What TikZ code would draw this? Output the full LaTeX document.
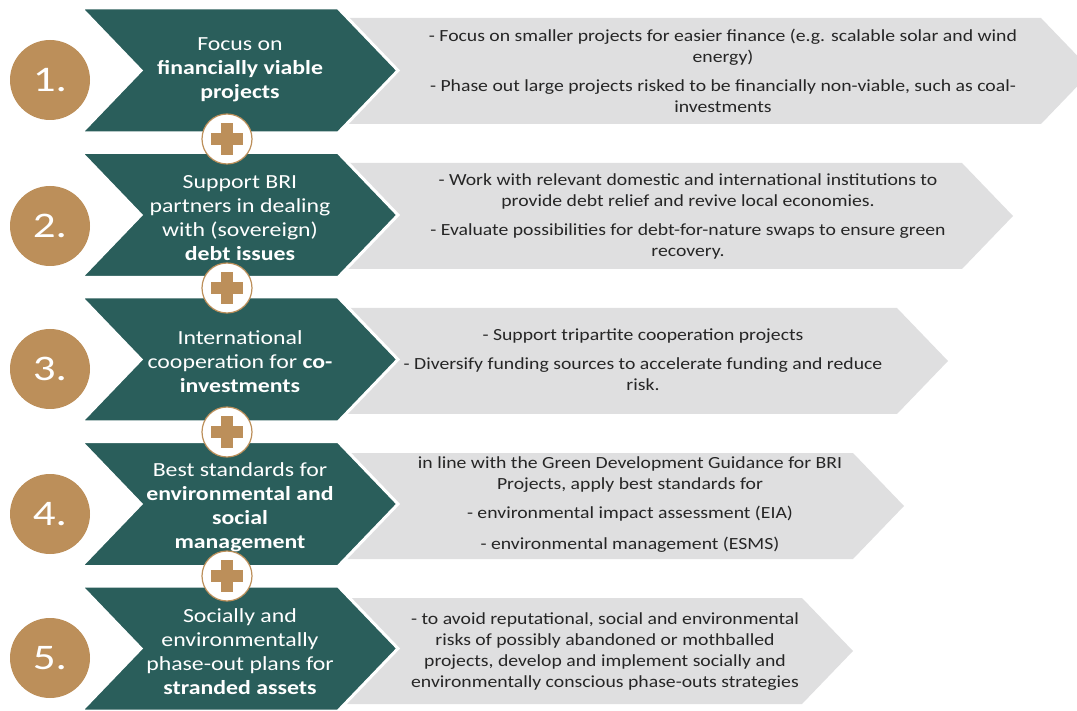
\documentclass[tikz,border=0pt]{standalone}
\usepackage{fontspec}
\setmainfont{Carlito}
\newfontfamily\gfont[FakeStretch=1.19]{Carlito}
\newfontfamily\dfont[FakeStretch=1.16]{Carlito}
\newfontfamily\nfont[FakeStretch=1.25]{Carlito}
\definecolor{chevgreen}{HTML}{2A5E5B}
\definecolor{tanc}{HTML}{BC8F5A}
\definecolor{grayc}{HTML}{DFDFE0}
\definecolor{textdark}{HTML}{262626}
\tikzset{
  greenfill/.style={fill=chevgreen, draw=white, line width=3pt, line join=miter},
  grayfill/.style={fill=grayc},
  numcirc/.style={circle, fill=tanc, minimum size=80pt, inner sep=0pt, text=white, font=\nfont\fontsize{36}{40}\selectfont},
  pluscirc/.style={circle, fill=white, draw=tanc, line width=1.2pt, minimum size=50pt, inner sep=0pt},
  greentext/.style={text=white, align=center, inner sep=0pt, font=\gfont\fontsize{20}{24}\selectfont},
  graytext/.style={text=textdark, align=center, inner sep=0pt, font=\dfont\fontsize{17}{21}\selectfont}
}
\begin{document}
\begin{tikzpicture}[x=1pt,y=-1pt]
\useasboundingbox (0,0) rectangle (1077,711);
\clip (0,0) rectangle (1077,711);
% gray chevrons
\foreach \c/\r in {71/1041, 216/962, 361/897, 506/853, 651/802}{
  \fill[grayfill] (345,\c-53) -- (\r,\c-53) -- (\r+51,\c) -- (\r,\c+53) -- (345,\c+53) -- cycle;
}
% green chevrons
\foreach \c in {70.5, 215, 359.5, 504, 648.5}{
  \filldraw[greenfill] (81,\c-62.5) -- (338,\c-62.5) -- (398,\c) -- (338,\c+62.5) -- (81,\c+62.5) -- (141,\c) -- cycle;
}
% number circles
\node[numcirc] (n1) at (50,80) {1.};
\node[numcirc] (n2) at (50,226) {2.};
\node[numcirc] (n3) at (50,369) {3.};
\node[numcirc] (n4) at (50,514) {4.};
\node[numcirc] (n5) at (50,658) {5.};
% green texts
\node[greentext] (t1) at (240,70) {Focus on\\\textbf{financially viable}\\\textbf{projects}};
\node[greentext] (t2) at (240,218) {Support BRI\\partners in dealing\\with (sovereign)\\\textbf{debt issues}};
\node[greentext] (t3) at (240,362) {International\\cooperation for \textbf{co-}\\\textbf{investments}};
\node[greentext] (t4) at (240,507) {Best standards for\\\textbf{environmental and}\\\textbf{social}\\\textbf{management}};
\node[greentext] (t5) at (240,652) {Socially and\\environmentally\\phase-out plans for\\\textbf{stranded assets}};
% plus connectors
\foreach \k/\y in {1/139, 2/288, 3/432, 4/576}{
  \node[pluscirc] (p\k) at (227,\y) {};
  \fill[tanc] (p\k.center) ++(-6,-16) rectangle ++(12,32);
  \fill[tanc] (p\k.center) ++(-16,-6) rectangle ++(32,12);
}
% gray texts
\node[graytext] (d1) at (723,71) {- Focus on smaller projects for easier finance (e.g. scalable solar and wind\\energy)\\[8pt]- Phase out large projects risked to be financially non-viable, such as coal-\\investments};
\node[graytext] (d2) at (688,216) {- Work with relevant domestic and international institutions to\\provide debt relief and revive local economies.\\[8pt]- Evaluate possibilities for debt-for-nature swaps to ensure green\\recovery.};
\node[graytext] (d3) at (643,360) {- Support tripartite cooperation projects\\[8pt]- Diversify funding sources to accelerate funding and reduce\\risk.};
\node[graytext] (d4) at (630,505) {in line with the Green Development Guidance for BRI\\Projects, apply best standards for\\[8pt]- environmental impact assessment (EIA)\\[10pt]- environmental management (ESMS)};
\node[graytext] (d5) at (605,652) {- to avoid reputational, social and environmental\\risks of possibly abandoned or mothballed\\projects, develop and implement socially and\\environmentally conscious phase-outs strategies};
\end{tikzpicture}
\end{document}
